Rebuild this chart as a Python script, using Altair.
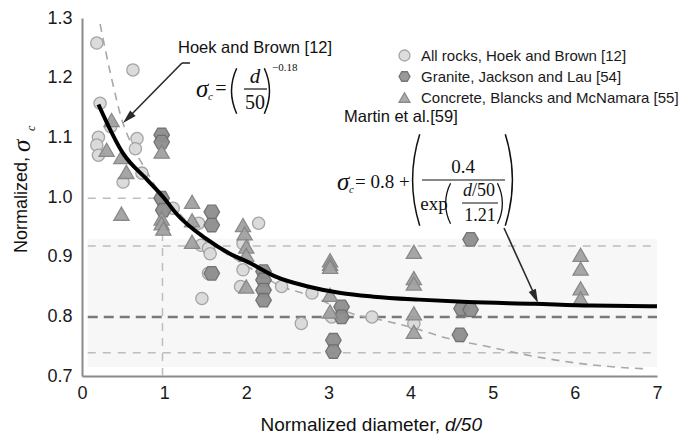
import math
import altair as alt
import pandas as pd

# ---------------- data ----------------
series_names = ["All rocks, Hoek and Brown [12]",
                "Granite, Jackson and Lau [54]",
                "Concrete, Blancks and McNamara [55]"]

rocks_x = [0.18, 0.62, 0.22, 0.20, 0.18, 0.20, 0.35, 0.67, 0.65, 0.73, 0.50, 1.11, 1.42, 1.45,
           1.54, 1.56, 1.54, 1.46, 1.96, 1.96, 1.93, 2.15, 2.43, 2.80, 2.67, 3.04, 3.53, 4.04]
rocks_y = [1.258, 1.213, 1.157, 1.100, 1.087, 1.070, 1.118, 1.098, 1.081, 1.040, 1.025, 0.981,
           0.956, 0.919, 0.914, 0.905, 0.872, 0.830, 0.922, 0.878, 0.850, 0.956, 0.850, 0.839,
           0.788, 0.799, 0.799, 0.788]

granite_x = [0.97, 0.97, 0.97, 0.99, 1.58, 1.58, 1.58, 2.21, 2.21, 2.21, 2.21, 3.16, 3.16,
             3.06, 3.06, 4.73, 4.62, 4.73, 4.60]
granite_y = [1.104, 1.092, 0.998, 0.978, 0.975, 0.953, 0.872, 0.875, 0.861, 0.844, 0.827,
             0.816, 0.799, 0.760, 0.741, 0.929, 0.813, 0.811, 0.769]

concrete_x = [0.36, 0.30, 0.48, 0.54, 0.97, 0.48, 1.34, 0.97, 0.97, 0.99, 1.34, 1.34, 1.96,
              1.98, 2.00, 2.00, 2.00, 3.02, 3.02, 3.02, 3.02, 3.02, 4.04, 4.04, 4.04, 4.04,
              4.04, 6.07, 6.07, 6.07, 6.07]
concrete_y = [1.129, 1.079, 1.067, 1.042, 1.076, 0.972, 0.992, 0.964, 0.956, 0.947, 0.961,
              0.925, 0.953, 0.939, 0.917, 0.903, 0.850, 0.894, 0.888, 0.883, 0.836, 0.808,
              0.908, 0.864, 0.855, 0.805, 0.774, 0.903, 0.880, 0.847, 0.830]

martin_x = [0.2, 0.5, 0.8, 1.0, 1.15, 1.5, 1.8, 2.05, 2.35, 2.75, 3.15, 3.55, 4.1, 4.7, 5.5, 6.2, 7.0]
martin_y = [1.155, 1.073, 1.028, 0.998, 0.972, 0.931, 0.905, 0.889, 0.867, 0.850, 0.839, 0.833,
            0.828, 0.824, 0.821, 0.818, 0.817]

hb_x = [0.22, 0.35, 0.5, 0.62, 0.8, 0.93, 1.2, 1.5, 2.0, 2.45, 2.75, 3.35, 3.7, 4.05, 4.4,
        4.95, 5.5, 6.0, 6.5, 6.85]
hb_y = [1.29, 1.205, 1.123, 1.084, 1.04, 1.01, 0.97, 0.93, 0.885, 0.849, 0.836, 0.802, 0.792,
        0.78, 0.765, 0.749, 0.733, 0.722, 0.715, 0.712]

x_ticks = [0, 1, 2, 3, 4, 5, 6, 7]
y_ticks = [0.7, 0.8, 0.9, 1.0, 1.1, 1.2, 1.3]

# reference guide lines: (x start, x end, y)
band_lo, band_hi = 0.715, 0.93
guide_light = [(0.07, 7.0, 0.918), (0.07, 7.0, 0.739), (0.07, 0.98, 0.998)]
guide_dark = [(0.07, 7.0, 0.799)]
vguide = [(0.98, 0.70, 0.998)]

# ---------------- layout helpers ----------------
PX0, PY0, PW, PH = 82, 18, 575, 358
XMIN, XMAX, YMIN, YMAX = 0, 7, 0.7, 1.3
SANS = "Liberation Sans"
SERIF = "Liberation Serif"
HEX = "M-1,0L-0.5,-0.866L0.5,-0.866L1,0L0.5,0.866L-0.5,0.866Z"
ARROW = "M0,0L-0.45,1.6L0.45,1.6Z"


def dx(px):
    return XMIN + (px - PX0) / PW * (XMAX - XMIN)


def dy(py):
    return YMAX - (py - PY0) / PH * (YMAX - YMIN)


xs = alt.Scale(domain=[XMIN, XMAX], nice=False, zero=False)
ys = alt.Scale(domain=[YMIN, YMAX], nice=False, zero=False)
x_axis = alt.Axis(values=x_ticks, format="d", title=None, ticks=False, grid=False,
                  labelFont=SANS, labelFontSize=18, labelColor="#1a1a1a", labelPadding=8,
                  labelFlush=False, domainColor="#8a8a8a", domainWidth=2)
y_axis = alt.Axis(values=y_ticks, format=".1f", title=None, ticks=False, grid=False,
                  labelFont=SANS, labelFontSize=18, labelColor="#1a1a1a", labelPadding=10,
                  labelFlush=False, labelOverlap=False, domainColor="#8a8a8a", domainWidth=2)


def X(f):
    return alt.X(f + ":Q", scale=xs, axis=x_axis)


def Y(f):
    return alt.Y(f + ":Q", scale=ys, axis=y_axis)


def X2(f):
    return alt.X2(f)


def Y2(f):
    return alt.Y2(f)


def txt(px, py, s, size, font=SANS, style="normal", align="left", angle=0, color="#111111"):
    df = pd.DataFrame({"x": [dx(px)], "y": [dy(py)], "t": [s]})
    return alt.Chart(df).mark_text(font=font, fontSize=size, fontStyle=style, align=align,
                                   baseline="middle", angle=angle, color=color).encode(
        x=X("x"), y=Y("y"), text="t:N")


def seg(px1, py1, px2, py2, color="#111111", width=1.2):
    df = pd.DataFrame({"x": [dx(px1)], "y": [dy(py1)], "x2": [dx(px2)], "y2": [dy(py2)]})
    return alt.Chart(df).mark_rule(color=color, strokeWidth=width).encode(
        x=X("x"), y=Y("y"), x2=X2("x2"), y2=Y2("y2"))


def head(px, py, ang):
    df = pd.DataFrame({"x": [dx(px)], "y": [dy(py)]})
    return alt.Chart(df).mark_point(shape=ARROW, size=300, filled=True, color="#2a2a2a",
                                    opacity=1, angle=ang).encode(x=X("x"), y=Y("y"))


def paren(edge_px, top, bottom, bulge, left=True, thick=1.5):
    h = (bottom - top) / 2.0
    R = (h * h + bulge * bulge) / (2.0 * bulge)
    a = math.asin(h / R)
    cy = (top + bottom) / 2.0
    if left:
        cx = edge_px + R
        t1, t2 = 1.5 * math.pi - a, 1.5 * math.pi + a
    else:
        cx = edge_px - R
        t1, t2 = 0.5 * math.pi - a, 0.5 * math.pi + a
    df = pd.DataFrame({"x": [dx(cx)], "y": [dy(cy)]})
    return alt.Chart(df).mark_arc(radius=R, radius2=R - thick, theta=t1, theta2=t2,
                                  color="#111111").encode(x=X("x"), y=Y("y"))


# ---------------- data layers ----------------
band = alt.Chart(pd.DataFrame({"x": [0.07], "x2": [7.0], "y": [band_lo], "y2": [band_hi]})).mark_rect(
    color="#f7f7f7").encode(x=X("x"), x2=X2("x2"), y=Y("y"), y2=Y2("y2"))

gl = pd.DataFrame(guide_light, columns=["x", "x2", "y"])
light_rules = alt.Chart(gl).mark_rule(color="#bdbdbd", strokeWidth=1.5, strokeDash=[8, 7]).encode(
    x=X("x"), x2=X2("x2"), y=Y("y"))
gd = pd.DataFrame(guide_dark, columns=["x", "x2", "y"])
dark_rules = alt.Chart(gd).mark_rule(color="#7a7a7a", strokeWidth=2.5, strokeDash=[10, 6]).encode(
    x=X("x"), x2=X2("x2"), y=Y("y"))
gv = pd.DataFrame(vguide, columns=["x", "y", "y2"])
v_rules = alt.Chart(gv).mark_rule(color="#bdbdbd", strokeWidth=1.5, strokeDash=[8, 7]).encode(
    x=X("x"), y=Y("y"), y2=Y2("y2"))

hb_line = alt.Chart(pd.DataFrame({"x": hb_x, "y": hb_y})).mark_line(
    color="#a8a8a8", strokeWidth=1.6, strokeDash=[8, 6], interpolate="monotone").encode(
    x=X("x"), y=Y("y"))

legend = alt.Legend(orient="none", legendX=315, legendY=30, title=None,
                    labelFont=SANS, labelFontSize=15, labelColor="#1a1a1a",
                    symbolSize=120, symbolStrokeWidth=1.3, rowPadding=5,
                    labelOffset=9, padding=0, labelLimit=400)
shape_enc = alt.Shape("series:N", scale=alt.Scale(domain=series_names,
                                                  range=["circle", HEX, "triangle-up"]),
                      legend=legend)
fill_enc = alt.Fill("series:N", scale=alt.Scale(domain=series_names,
                                                range=["#dadada", "#8e8e8e", "#a2a2a2"]),
                    legend=legend)
stroke_enc = alt.Stroke("series:N", scale=alt.Scale(domain=series_names,
                                                    range=["#a0a0a0", "#6e6e6e", "#848484"]),
                        legend=legend)


def point_layer(xv, yv, name, size):
    df = pd.DataFrame({"x": xv, "y": yv, "series": [name] * len(xv)})
    return alt.Chart(df).mark_point(filled=True, opacity=0.95, strokeWidth=1.3, size=size).encode(
        x=X("x"), y=Y("y"), shape=shape_enc, fill=fill_enc, stroke=stroke_enc)


rocks_layer = point_layer(rocks_x, rocks_y, series_names[0], 150)
granite_layer = point_layer(granite_x, granite_y, series_names[1], 240)
concrete_layer = point_layer(concrete_x, concrete_y, series_names[2], 230)

martin_line = alt.Chart(pd.DataFrame({"x": martin_x, "y": martin_y})).mark_line(
    color="#000000", strokeWidth=4, interpolate="monotone").encode(x=X("x"), y=Y("y"))

# ---------------- annotations ----------------
ann = [
    # axis titles
    txt(22, 157, "Normalized,", 18, align="right", angle=270),
    txt(22, 152, "σ", 25, font=SERIF, style="italic", angle=270),
    txt(31, 131, "c", 12, font=SERIF, style="italic", angle=270),
    txt(440, 425, "Normalized diameter,", 19, align="right"),
    txt(445, 425, "d/50", 19, style="italic"),
    # Hoek and Brown
    txt(178, 48, "Hoek and Brown [12]", 16.5),
    txt(196, 89, "σ", 25, font=SERIF, style="italic"),
    txt(208, 97, "c", 11, font=SERIF, style="italic"),
    txt(221, 89, "=", 20, font=SERIF, align="center"),
    txt(255, 77, "d", 21, font=SERIF, style="italic", align="center"),
    txt(255, 103, "50", 20, font=SERIF, align="center"),
    txt(272, 68, "−0.18", 11, font=SERIF),
    seg(244, 89, 267, 89, width=1.2),
    paren(231, 68, 114, 5, left=True),
    paren(270, 68, 114, 5, left=False),
    # Martin et al.
    txt(344, 117, "Martin et al.[59]", 16.5),
    txt(337, 182, "σ", 25, font=SERIF, style="italic"),
    txt(349, 190, "c", 11, font=SERIF, style="italic"),
    txt(355, 182, "= 0.8 +", 19, font=SERIF),
    txt(463, 167, "0.4", 19, font=SERIF, align="center"),
    seg(422, 180, 505, 180, width=1.2),
    txt(434, 204, "exp", 19, font=SERIF, align="center"),
    txt(463, 191, "d", 18, font=SERIF, style="italic"),
    txt(472, 191, "/50", 18, font=SERIF),
    seg(462, 203, 498, 203, width=1.0),
    txt(480, 216, "1.21", 18, font=SERIF, align="center"),
    paren(412, 134, 226, 7, left=True),
    paren(513, 134, 226, 7, left=False),
    paren(445, 183, 224, 5, left=True, thick=1.3),
    paren(503, 183, 224, 5, left=False, thick=1.3),
    # arrows
    seg(182, 63, 190, 63, color="#2a2a2a", width=1.6),
    seg(182, 63, 127, 119, color="#2a2a2a", width=1.6),
    head(123, 123, 225.5),
    seg(504, 228, 535, 296, color="#2a2a2a", width=1.6),
    head(538, 303, 155.6),
]

chart = alt.layer(band, light_rules, v_rules, dark_rules, hb_line,
                  rocks_layer, granite_layer, concrete_layer, martin_line, *ann).properties(
    width=PW, height=PH,
    autosize=alt.AutoSizeParams(type="none"),
    padding={"left": PX0, "top": PY0, "right": 690 - PX0 - PW, "bottom": 439 - PY0 - PH},
    background="white",
).configure_view(stroke=None)

chart.save("out.html", embed_options={"renderer": "svg", "actions": False})
